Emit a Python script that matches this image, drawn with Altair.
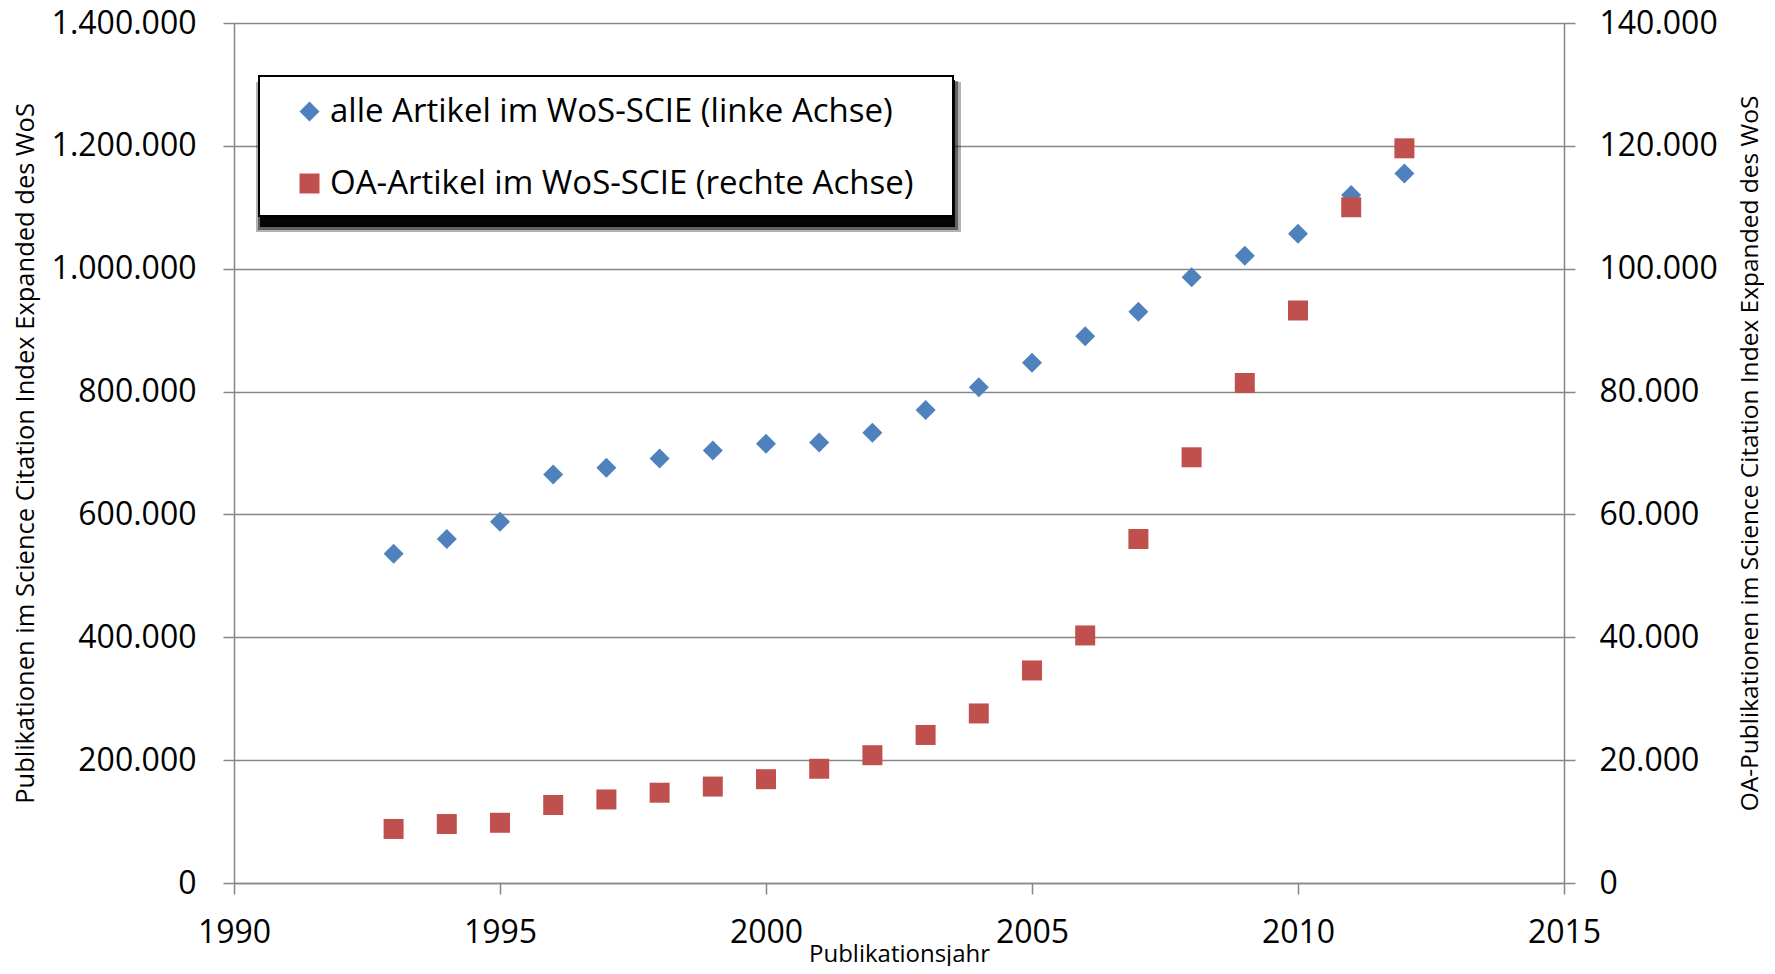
import altair as alt
import pandas as pd

# ---------------- data ----------------
years = list(range(1993, 2013))
all_articles = [536000, 560000, 588000, 665000, 676000, 691000, 704000, 715000,
                717000, 733000, 770000, 807000, 847000, 890000, 930000, 986000,
                1021000, 1057000, 1120000, 1155000]
oa_articles = [8800, 9600, 9800, 12700, 13600, 14700, 15700, 16900, 18600, 20800,
               24100, 27600, 34600, 40300, 56000, 69300, 81400, 93200, 110000, 119600]

series_names = ["alle Artikel im WoS-SCIE (linke Achse)",
                "OA-Artikel im WoS-SCIE (rechte Achse)"]
series_colors = ["#4F81BD", "#C0504D"]
series_shapes = ["diamond", "square"]

x_ticks = [1990, 1995, 2000, 2005, 2010, 2015]
left_ticks = [0, 200000, 400000, 600000, 800000, 1000000, 1200000, 1400000]
right_ticks = [0, 20000, 40000, 60000, 80000, 100000, 120000, 140000]

x_title = "Publikationsjahr"
left_title = "Publikationen im Science Citation Index Expanded des WoS"
right_title = "OA-Publikationen im Science Citation Index Expanded des WoS"

# ---------------- styling ----------------
FONT = "Open Sans"
GRAY = "#878787"
W, H = 1330, 860
german = "replace(replace(format(datum.value, ','), ',', '.'), ',', '.')"

df_all = pd.DataFrame({"year": years, "value": all_articles, "series": series_names[0]})
df_oa = pd.DataFrame({"year": years, "value": oa_articles, "series": series_names[1]})

x_enc = alt.X(
    "year:Q",
    scale=alt.Scale(domain=[x_ticks[0], x_ticks[-1]], nice=False, zero=False),
    axis=alt.Axis(values=x_ticks, format="d", grid=False, tickSize=11, tickColor=GRAY,
                  tickWidth=1.5, domainColor=GRAY, domainWidth=1.5, labelFontSize=32,
                  labelFont=FONT, labelColor="black", labelPadding=23, labelFlush=False,
                  labelOverlap=False, title=x_title, titleFont=FONT, titleFontSize=24,
                  titleFontWeight="normal", titleColor="black", titleX=W / 2, titleY=59,
                  titleBaseline="top", titleAlign="center"),
)

legend = alt.Legend(orient="none", legendX=59, legendY=72, title=None, labelFont=FONT,
                    labelFontSize=33, labelColor="black", labelLimit=900, labelOffset=4,
                    symbolSize=400, symbolStrokeWidth=0, symbolOpacity=1, rowPadding=38,
                    padding=0)
color_enc = alt.Color("series:N", scale=alt.Scale(domain=series_names, range=series_colors),
                      legend=legend)
shape_enc = alt.Shape("series:N", scale=alt.Scale(domain=series_names, range=series_shapes),
                      legend=legend)

blue = alt.Chart(df_all).mark_point(filled=True, size=400, opacity=1).encode(
    x=x_enc,
    y=alt.Y("value:Q",
            scale=alt.Scale(domain=[left_ticks[0], left_ticks[-1]], nice=False),
            axis=alt.Axis(orient="left", values=left_ticks, labelExpr=german, grid=True,
                          gridColor=GRAY, gridWidth=1.6, tickSize=11, tickColor=GRAY,
                          tickWidth=1.5, domainColor=GRAY, domainWidth=1.5,
                          labelFont=FONT, labelFontSize=32, labelColor="black",
                          labelPadding=27, title=left_title, titleFont=FONT,
                          titleFontSize=25.5, titleFontWeight="normal", titleColor="black",
                          titleX=-209, titleY=H / 2, titleAngle=270,
                          titleBaseline="middle", titleAlign="center")),
    color=color_enc,
    shape=shape_enc,
)

red = alt.Chart(df_oa).mark_point(filled=True, size=400, opacity=1).encode(
    x=x_enc,
    y=alt.Y("value:Q",
            scale=alt.Scale(domain=[right_ticks[0], right_ticks[-1]], nice=False),
            axis=alt.Axis(orient="right", values=right_ticks, labelExpr=german, grid=False,
                          tickSize=11, tickColor=GRAY, tickWidth=1.5, domainColor=GRAY,
                          domainWidth=1.5, labelFont=FONT, labelFontSize=32,
                          labelColor="black", labelPadding=24, title=right_title,
                          titleFont=FONT, titleFontSize=24.5, titleFontWeight="normal",
                          titleColor="black", titleX=186, titleY=H / 2, titleAngle=270,
                          titleBaseline="middle", titleAlign="center")),
    color=color_enc,
    shape=shape_enc,
)

# decorative legend frame with drop shadow
one = pd.DataFrame({"k": [0]})
shadow_outer = alt.Chart(one).mark_rect(color="black", opacity=0.3).encode(
    x=alt.value(22), x2=alt.value(727), y=alt.value(59), y2=alt.value(209))
shadow_mid = alt.Chart(one).mark_rect(color="black", opacity=0.45).encode(
    x=alt.value(24), x2=alt.value(724), y=alt.value(58), y2=alt.value(207))
shadow_inner = alt.Chart(one).mark_rect(color="black", opacity=0.95).encode(
    x=alt.value(26), x2=alt.value(721), y=alt.value(57), y2=alt.value(204))
frame = alt.Chart(one).mark_rect(fill="white", stroke="black", strokeWidth=2).encode(
    x=alt.value(25), x2=alt.value(719), y=alt.value(53), y2=alt.value(193))

chart = alt.layer(shadow_outer, shadow_mid, shadow_inner, frame, blue, red).resolve_scale(
    y="independent"
).properties(
    width=W, height=H,
    autosize=alt.AutoSizeParams(type="none"),
    padding={"left": 226, "top": 15, "right": 200, "bottom": 83},
).configure_view(strokeWidth=0)

chart.save("out.html", embed_options={"renderer": "svg", "actions": False})
